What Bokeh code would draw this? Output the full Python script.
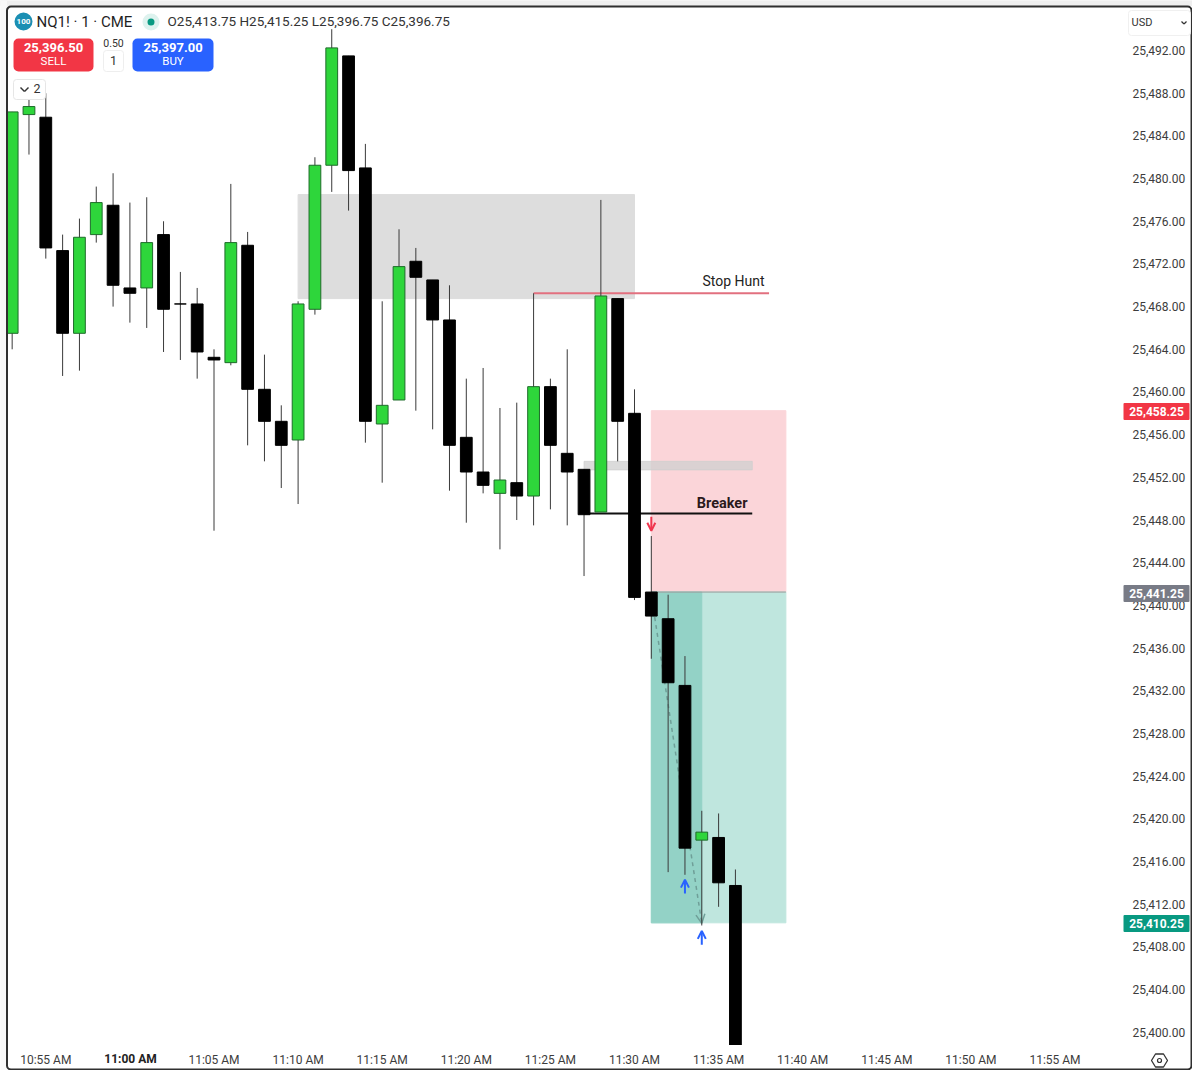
from bokeh.plotting import figure
from bokeh.embed import file_html
from bokeh.resources import INLINE
from bokeh.models import (Label, BoxAnnotation, Arrow, OpenHead, FixedTicker, NumeralTickFormatter,
                          Range1d, PolyAnnotation, ColumnDataSource)

BASE = 25400
first_minute = 653
opens  = [65.5,86,85.75,73.25,65.5,74.75,77.5,69.75,69.75,74.75,68.25,68.25,63.25,62.75,73.75,60.25,57.25,55.5,67.75,81.25,91.5,81,57,59.25,72.25,70.5,66.75,55.75,52.5,50.5,51.5,50.25,60.5,54.25,52.75,48.75,68.75,58,41.25,38.75,32.5,18,18.25,13.75]
highs  = [86.25,87.5,88,74.75,76.25,79.25,80.5,77.75,78.25,76,71.25,69.75,64,79.5,75,63.5,58.75,68.5,82,94,91.5,83.25,68.5,75.25,73.5,70.5,70,61.25,62.25,58.5,59,69.25,61.25,64,52.75,78,68.75,60.25,46.5,41,35.25,20.75,20.5,15.25]
lows   = [64,82.25,72.5,61.5,62,74,68,66.5,66,63.75,63,61.25,47,62.5,55,53.5,51,49.5,67.25,78.75,77,55.25,51.5,59.25,58.25,56.5,50.75,47.75,50.5,45.25,48,47.5,49,47.5,42.75,48.75,53.5,40.5,35,15,14.75,10,11.75,-3.25]
closes = [86.25,86.75,73.5,65.5,74.5,77.75,70,69.25,74,67.75,68.25,63.75,63,74,60.25,57.25,55,68.25,81.25,92.25,80.75,57.25,58.75,71.75,70.75,66.75,55,52.5,51.25,51.75,50.25,60.5,55,52.5,48.5,69,57.25,40.75,39,32.75,17.25,18.75,14,-3.25]

price_ticks = list(range(25400, 25493, 4))
time_ticks = [655, 660, 665, 670, 675, 680, 685, 690, 695, 700, 705, 710, 715]
time_labels = ["10:55 AM", "11:00 AM", "11:05 AM", "11:10 AM", "11:15 AM", "11:20 AM", "11:25 AM",
               "11:30 AM", "11:35 AM", "11:40 AM", "11:45 AM", "11:50 AM", "11:55 AM"]

W, H = 1192, 1070
AXIS_X, AXIS_Y = 1122, 1045

def X(px):
    return 655 + (px - 45.3) / 16.82

def Y(py):
    return BASE + 96.69 - 0.09372 * py

p = figure(width=W, height=H, output_backend="svg", toolbar_location=None,
           x_range=Range1d(X(0), X(W)), y_range=Range1d(Y(H), Y(0)),
           y_axis_location="right", min_border_left=0, min_border_right=0,
           min_border_top=0, min_border_bottom=0)
p.margin = (0, 0, -8, 0)
p.grid.visible = False
p.outline_line_color = None
p.background_fill_color = "white"
p.border_fill_color = "white"

for ax, ticks in ((p.xaxis[0], time_ticks), (p.yaxis[0], price_ticks)):
    ax.ticker = FixedTicker(ticks=ticks)
    ax.axis_line_color = None
    ax.major_tick_line_color = None
    ax.minor_tick_line_color = None
    ax.major_tick_out = 0
    ax.major_label_text_font = "Roboto"
    ax.major_label_text_font_size = "12px"
    ax.major_label_text_color = "#3c3c3c"
p.yaxis[0].fixed_location = X(AXIS_X)
p.xaxis[0].fixed_location = Y(AXIS_Y)
p.yaxis[0].formatter = NumeralTickFormatter(format="0,0.00")
p.yaxis[0].major_label_standoff = 10
p.xaxis[0].major_label_standoff = 7
p.xaxis[0].major_label_overrides = {t: ("" if t == 660 else l) for t, l in zip(time_ticks, time_labels)}

def box(x0, x1, y0, y1, fill="white", line=None, lw=1, r=0, level="annotation", alpha=1):
    b = BoxAnnotation(left=X(x0), right=X(x1), top=Y(y0), bottom=Y(y1), fill_color=fill,
                      fill_alpha=alpha if fill else 0, line_color=line, line_alpha=1 if line else 0,
                      line_width=lw, border_radius=r, level=level, editable=False)
    p.add_layout(b)

def txt(x, y, s, size=12, color="#222222", bold=False, align="left"):
    p.add_layout(Label(x=X(x), y=Y(y - 0.5), text=s, text_font="Roboto", text_font_size=f"{size}px",
                       text_color=color, text_align=align, text_baseline="middle",
                       text_font_style="bold" if bold else "normal"))

def seg(x0, y0, x1, y1, color, lw=1.5):
    p.add_layout(Arrow(end=None, x_start=X(x0), y_start=Y(y0), x_end=X(x1), y_end=Y(y1),
                       line_color=color, line_width=lw))

# zones
p.quad(left=[670], right=[690], top=[BASE + 78.5], bottom=[BASE + 68.75], color="#DDDDDD", level="underlay")
p.quad(left=[691], right=[699], top=[25458.25], bottom=[25441.25], color="#FBD5D9", level="underlay")
p.quad(left=[691], right=[699], top=[25441.25], bottom=[25410.25], color="#BFE6DE", level="underlay")
p.quad(left=[691], right=[694], top=[25441.25], bottom=[25410.25], color="#93D2C6", level="underlay")
p.segment(x0=[691], x1=[699], y0=[25441.25], y1=[25441.25], line_color="#9a9a9a", line_width=1, level="underlay")
p.quad(left=[687], right=[697], top=[BASE + 53.5], bottom=[BASE + 52.7], color="#CFCFCF", alpha=0.75, level="underlay")
p.segment(x0=[684], x1=[698], y0=[BASE + 69.25], y1=[BASE + 69.25], line_color="#E2707F", line_width=2, level="underlay")
p.segment(x0=[687], x1=[697], y0=[BASE + 48.6], y1=[BASE + 48.6], line_color="#111111", line_width=2, level="underlay")

# dashed trade path
p.add_layout(Arrow(end=OpenHead(size=9, line_color="#6F9F98", line_width=1.5), x_start=691.2, y_start=BASE + 38.9,
                   x_end=694, y_end=BASE + 10.2, line_color="#6F9F98", line_width=1.5,
                   line_dash="4 4", level="underlay"))

# candles
minutes = [first_minute + i for i in range(len(opens))]
src = ColumnDataSource(dict(
    x=minutes,
    o=[BASE + v for v in opens], h=[BASE + v for v in highs],
    l=[BASE + v for v in lows], c=[BASE + v for v in closes],
    fill=["#2ED63B" if c > o else "#000000" for o, c in zip(opens, closes)],
    edge=["#1E6B2A" if c > o else "#000000" for o, c in zip(opens, closes)],
))
p.segment(x0="x", x1="x", y0="l", y1="h", source=src, line_color="#3a3a3a", line_width=1)
p.vbar(x="x", width=0.7, top="o", bottom="c", source=src, fill_color="fill", line_color="edge", line_width=1)

# the time scale strip covers the candle that runs below the pane
p.quad(left=[X(0)], right=[X(W)], top=[Y(AXIS_Y)], bottom=[Y(H)], color="white")
# outside of the frame
p.quad(left=[X(0)], right=[X(W)], top=[Y(0)], bottom=[Y(5)], color="#EFEFEF")
p.quad(left=[X(0)], right=[X(6)], top=[Y(0)], bottom=[Y(H)], color="#F8F8F8")

# trade arrows
for m, tail, tip, col in ((691, 48.3, 47, "#F0364E"), (693, 13, 14.3, "#2962FF"), (694, 8.2, 9.5, "#2962FF")):
    p.add_layout(Arrow(end=OpenHead(size=8, line_color=col, line_width=2), x_start=m, y_start=BASE + tail,
                       x_end=m, y_end=BASE + tip, line_color=col, line_width=2))

txt(764, 281, "Stop Hunt", 14, "#222222", align="right")
txt(747, 503, "Breaker", 14.5, "#2b1a1c", bold=True, align="right")

# bold time tick
txt(130, 1059, "11:00 AM", 12, "#222222", bold=True, align="center")

# chart frame
box(6.5, 1191, 6, 1069, fill=None, line="#2f2f2f", lw=2, r=4)

# header
box(14, 32, 12, 30, fill="#1B8FB3", r=9)
txt(23, 21.5, "100", 8, "white", bold=True, align="center")
txt(36, 21.5, "NQ1! · 1 · CME", 15, "#1f1f1f")
box(142, 159, 13, 30, fill="#DDF2EE", r=9)
box(147, 154, 18, 25, fill="#089981", r=4)
txt(167, 21, "O25,413.75  H25,415.25  L25,396.75  C25,396.75", 13.5, "#333333")

box(13, 93, 38, 71, fill="#F23645", r=5)
txt(53, 47, "25,396.50", 13, "white", bold=True, align="center")
txt(53, 61, "SELL", 11.5, "white", align="center")
txt(113, 43, "0.50", 10.5, "#333333", align="center")
box(103, 123, 50, 71, fill="white", line="#EEEEEE", r=3)
txt(113, 60.5, "1", 12.5, "#333333", align="center")
box(132, 213, 38, 71, fill="#2962FF", r=5)
txt(172.5, 47, "25,397.00", 13, "white", bold=True, align="center")
txt(172.5, 61, "BUY", 11.5, "white", align="center")

box(13, 45, 79, 99, fill="white", line="#E6E6E6", r=3)
seg(20, 87, 24, 91, "#333333")
seg(24, 91, 28, 87, "#333333")
txt(36.5, 88.5, "2", 12.5, "#333333", align="center")

box(1128, 1190, 10, 35, fill="white", line="#F0F0F0", r=3)
txt(1131, 22, "USD", 11, "#333333")
seg(1181, 21, 1183.5, 23.5, "#333333", 1.3)
seg(1183.5, 23.5, 1186, 21, "#333333", 1.3)

# price labels
for py, s, col in ((411, "25,458.25", "#F23645"), (593, "25,441.25", "#787B86"), (923, "25,410.25", "#089981")):
    box(1123, 1189, py - 8.5, py + 8.5, fill=col, r=1)
    txt(1156, py, s, 12, "white", bold=True, align="center")

# settings icon
hx, hy = 1159, 1060
off = [(-8, 0), (-4, -6.5), (4, -6.5), (8, 0), (4, 6.5), (-4, 6.5)]
p.add_layout(PolyAnnotation(xs=[X(hx + a) for a, b in off], ys=[Y(hy + b) for a, b in off],
                            fill_alpha=0, line_color="#333333", line_alpha=1, line_width=1.3, editable=False))
box(hx - 2, hx + 2, hy - 2, hy + 2, fill=None, line="#333333", lw=1.2, r=2)

open("out.html", "w").write(file_html(p, INLINE))
